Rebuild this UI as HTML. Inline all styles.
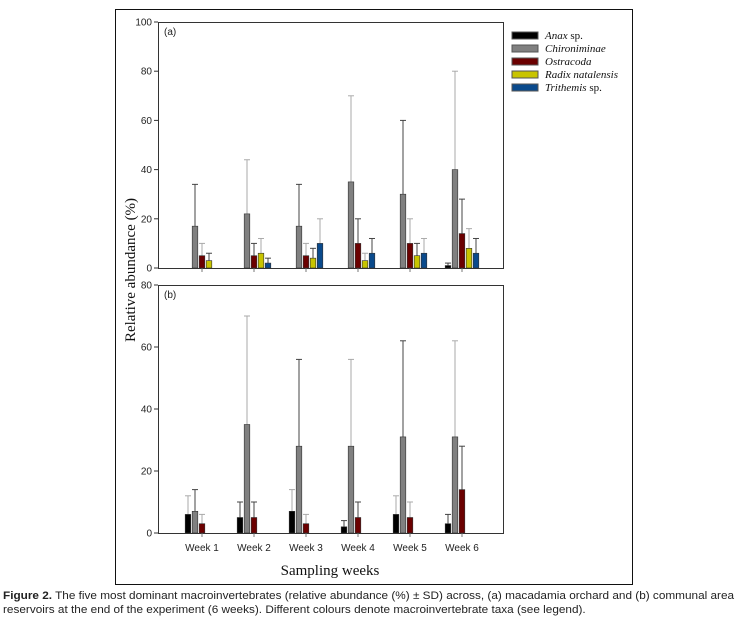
<!DOCTYPE html>
<html><head><meta charset="utf-8"><style>
body{margin:0;background:#fff;width:746px;height:625px;overflow:hidden}
svg{display:block}
.t{font-family:"Liberation Sans",sans-serif;font-size:10px;fill:#222}
.s{font-family:"Liberation Serif",serif;fill:#111}
.cap{position:absolute;left:3px;top:589px;width:760px;font-family:"Liberation Sans",sans-serif;font-size:11px;line-height:14px;color:#222;transform:scaleX(1.07);transform-origin:0 0;white-space:nowrap}
</style></head><body>
<svg id="c" width="746" height="625" xmlns="http://www.w3.org/2000/svg">
<rect x="115.5" y="9.5" width="517" height="575" fill="none" stroke="#111" stroke-width="1"/>
<rect x="158.5" y="22.5" width="345" height="246" fill="none" stroke="#333"/>
<rect x="158.5" y="285.5" width="345" height="248" fill="none" stroke="#333"/>
<text class="t" x="164" y="35" font-size="11">(a)</text>
<text class="t" x="164" y="298" font-size="11">(b)</text>
<text class="s" font-size="15" transform="translate(135,270) rotate(-90)" text-anchor="middle">Relative abundance (%)</text>
<text class="s" font-size="15" x="330" y="575" text-anchor="middle">Sampling weeks</text>
<g class="s" font-size="11">
<rect x="512" y="32" width="26" height="7" fill="#000" stroke="#555"/><text x="545" y="39"><tspan font-style="italic">Anax</tspan> sp.</text>
<rect x="512" y="45" width="26" height="7" fill="#808080" stroke="#555"/><text x="545" y="52" font-style="italic">Chironiminae</text>
<rect x="512" y="58" width="26" height="7" fill="#6b0000" stroke="#555"/><text x="545" y="65" font-style="italic">Ostracoda</text>
<rect x="512" y="71" width="26" height="7" fill="#c8c400" stroke="#555"/><text x="545" y="78" font-style="italic">Radix natalensis</text>
<rect x="512" y="84" width="26" height="7" fill="#0a4a8c" stroke="#555"/><text x="545" y="91"><tspan font-style="italic">Trithemis</tspan> sp.</text>
</g>
<g id="g"></g>
</svg>
<div class="cap"><b>Figure 2.</b> The five most dominant macroinvertebrates (relative abundance (%) ± SD) across, (a) macadamia orchard and (b) communal area<br>reservoirs at the end of the experiment (6 weeks). Different colours denote macroinvertebrate taxa (see legend).</div>
<script>
var g=document.getElementById('g'),h='';
var cols=['#000','#808080','#6b0000','#c8c400','#0a4a8c'];
var cx=[202,254,306,358,410,462],off=[-14,-7,0,7,14];
function panel(base,scale,max,step,data){
 for(var v=0;v<=max;v+=step){var y=base-v*scale;h+='<line x1="154" x2="158" y1="'+y+'" y2="'+y+'" stroke="#333"/><text class="t" x="152" y="'+(y+3.5)+'" text-anchor="end">'+v+'</text>';}
 for(var w=0;w<6;w++){h+='<line x1="'+cx[w]+'" x2="'+cx[w]+'" y1="'+base+'" y2="'+(base+4)+'" stroke="#777"/>';
  for(var k=0;k<5;k++){var d=data[w][k];if(!d)continue;var x=cx[w]+off[k];var top=base-d[0]*scale,et=base-d[1]*scale;var ec=((w+k)%2)?'#444':'#aaa';
   h+='<line x1="'+x+'" x2="'+x+'" y1="'+top+'" y2="'+et+'" stroke="'+ec+'"/><line x1="'+(x-3)+'" x2="'+(x+3)+'" y1="'+et+'" y2="'+et+'" stroke="'+ec+'"/>';
   h+='<rect x="'+(x-2.8)+'" y="'+top+'" width="5.6" height="'+(d[0]*scale)+'" fill="'+cols[k]+'" stroke="#333" stroke-width="0.6"/>';}}
}
panel(268,2.46,100,20,[
 [0,[17,34],[5,10],[3,6],0],
 [0,[22,44],[5,10],[6,12],[2,4]],
 [0,[17,34],[5,10],[4,8],[10,20]],
 [0,[35,70],[10,20],[3,6],[6,12]],
 [0,[30,60],[10,20],[5,10],[6,12]],
 [[1,2],[40,80],[14,28],[8,16],[6,12]]]);
panel(533,3.1,80,20,[
 [[6,12],[7,14],[3,6],0,0],
 [[5,10],[35,70],[5,10],0,0],
 [[7,14],[28,56],[3,6],0,0],
 [[2,4],[28,56],[5,10],0,0],
 [[6,12],[31,62],[5,10],0,0],
 [[3,6],[31,62],[14,28],0,0]]);
for(var w=0;w<6;w++)h+='<text class="t" x="'+cx[w]+'" y="551" text-anchor="middle">Week '+(w+1)+'</text>';
g.innerHTML=h;
</script>
</body></html>
